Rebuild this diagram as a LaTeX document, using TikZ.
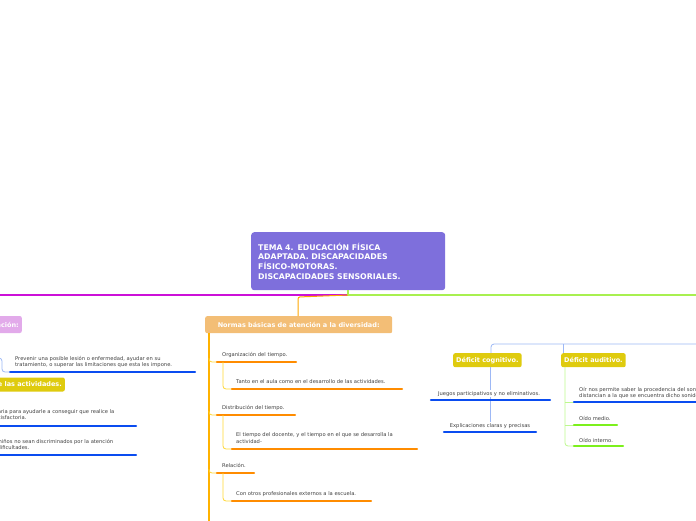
\documentclass[tikz,border=0pt]{standalone}
\usepackage{fontspec}
\setmainfont{DejaVu Sans}
\begin{document}
\begin{tikzpicture}[x=1pt,y=-1pt,
  txt/.style={font=\fontsize{5.2}{6.4}\selectfont,text=black!75,inner sep=0pt,align=left},
  hdr/.style={rounded corners=2pt,font=\fontsize{6.5}{7.5}\bfseries\selectfont,text=white,inner sep=3pt},
  bl/.style={draw=cbl,line width=2.2pt,line cap=round},
  orl/.style={draw=orange!90!yellow,line width=2.2pt,line cap=round},
  grl/.style={draw=cgr,line width=2.2pt,line cap=round},
  thin/.style={line width=0.8pt,rounded corners=3pt}]
\definecolor{cpurple}{HTML}{7E6FDC}
\definecolor{cpink}{HTML}{E2AAEA}
\definecolor{cyel}{HTML}{DFCB0E}
\definecolor{corange}{HTML}{F3BE76}
\definecolor{lblue}{HTML}{9DB8F5}
\definecolor{cbl}{HTML}{0A4CF0}
\definecolor{cgr}{HTML}{7CF01C}
\definecolor{cmag}{HTML}{CC10D8}
\definecolor{clgr}{HTML}{A8F050}
\useasboundingbox (0,0) rectangle (696,520);
\clip (0,0) rectangle (696,520);
% central
\node[fill=cpurple,rounded corners=3pt,minimum width=194pt,minimum height=58pt,anchor=north west,text width=180pt,font=\fontsize{7.8}{9.6}\bfseries\selectfont,text=white,align=left] (c) at (251,232) {TEMA 4. EDUCACIÓN FÍSICA\\ADAPTADA. DISCAPACIDADES\\FÍSICO-MOTORAS.\\DISCAPACIDADES SENSORIALES.};
\coordinate (j) at (348,295);
\draw[cmag,line width=1.2pt] (c.south -| j) -- (j) -- (0,295);
\draw[clgr,line width=1.2pt] (c.south -| j) -- (j) -- (696,295);
% left
\node[hdr,fill=cpink,anchor=east,minimum height=17pt] (p) at (22,324.5) {Prevención:};
\node[txt,anchor=south west] (t1) at (15,368) {Prevenir una posible lesión o enfermedad, ayudar en su\\tratamiento, o superar las limitaciones que esta les impone.};
\draw[bl] (10,372) -- (195,372);
\draw[lblue,thin] (-5,358) -- (2,358) -- (2,372) -- (10,372);
\node[hdr,fill=cyel,anchor=east,minimum height=14pt] (y) at (65,384.5) {Adaptación de las actividades.};
\node[txt,anchor=south west] (t2) at (-58,420) {Apoyo y ayuda necesaria para ayudarle a conseguir que realice la\\actividad de forma satisfactoria.};
\draw[bl] (0,426) -- (136,426);
\node[txt,anchor=south west] (t3) at (-43,450) {Que el resto de niños no sean discriminados por la atención\\a los niños con dificultades.};
\draw[bl] (0,455) -- (136,455);
% orange
\node[hdr,fill=corange,anchor=north west,minimum height=17pt,minimum width=187pt] (n) at (205,316) {Normas básicas de atención a la diversidad:};
\draw[orange!70!yellow,line width=1pt,rounded corners=2pt] (j) -- (298,297) -- (n.north -| 298,0);
\draw[orange!60!yellow,line width=2pt] (209,333) -- (209,525);
\foreach \y/\e/\t/\sy/\se/\st in {356/296/Organización del tiempo./383/402/Tanto en el aula como en el desarrollo de las actividades.,
  409/295/Distribución del tiempo./443/417/{El tiempo del docente, y el tiempo en el que se desarrolla la\\actividad-},
  467/254/Relación./495/371/Con otros profesionales externos a la escuela.}{
  \draw[orange!40!yellow!80!white,thin] (209,\y+2) -- (209,\y+6) -- (217,\y+6);
  \draw[orl] (217,\y+6) -- (\e,\y+6);
  \node[txt,anchor=base west] at (222,\y) {\t};
  \draw[orange!40!yellow!80!white,thin] (223,\y+6) -- (223,\sy+6) -- (232,\sy+6);
  \draw[orl] (232,\sy+6) -- (\se,\sy+6);
  \node[txt,anchor=base west] at (236,\sy) {\st};
}
% right
\node[hdr,fill=cyel,anchor=north west,minimum height=14pt] (dc) at (453,353) {Déficit cognitivo.};
\node[hdr,fill=cyel,anchor=north west,minimum height=14pt] (da) at (561,353) {Déficit auditivo.};
\draw[lblue,thin] (700,344) -- (491,344) -- (dc.north -| 491,0);
\draw[lblue,thin] (563,353) -- (563,344);
\draw[lblue,line width=0.8pt] (490,367) -- (490,425);
\node[txt,anchor=base,fill=white,inner sep=1pt] at (489,395) {Juegos participativos y no eliminativos.};
\draw[bl] (431,400) -- (550,400);
\node[txt,anchor=base,fill=white,inner sep=1pt] at (490,427) {Explicaciones claras y precisas};
\draw[bl] (444,432) -- (536,432);
\draw[cgr!50!white,thin] (565,367) -- (565,446) -- (574,446);
\draw[cgr!50!white,thin] (565,402) -- (574,402);
\draw[cgr!50!white,thin] (565,425) -- (574,425);
\node[txt,anchor=south west] at (579,399) {Oír nos permite saber la procedencia del sonido y las\\distancian a la que se encuentra dicho sonido.};
\draw[bl] (574,402) -- (700,402);
\node[txt,anchor=base west] at (579,420) {Oído medio.};
\draw[grl] (574,425) -- (617,425);
\node[txt,anchor=base west] at (579,442) {Oído interno.};
\draw[grl] (574,446) -- (623,446);
\end{tikzpicture}
\end{document}
